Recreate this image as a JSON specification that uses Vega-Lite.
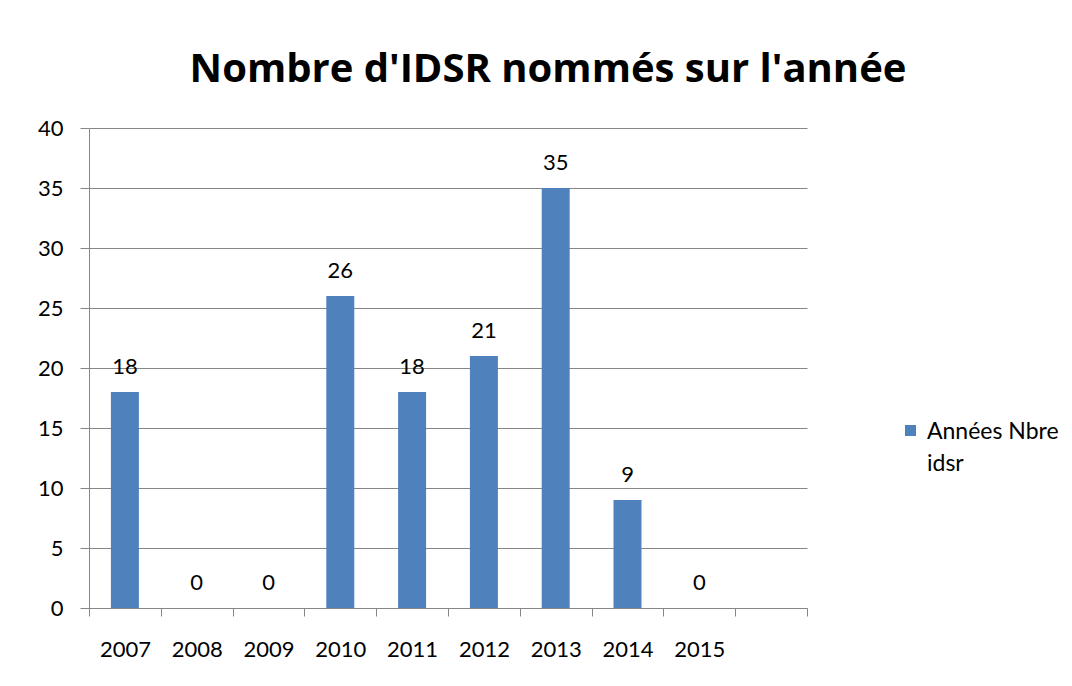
{
  "$schema": "https://vega.github.io/schema/vega-lite/v6.json",
  "autosize": "none",
  "width": 718,
  "height": 480,
  "padding": {"left": 89, "top": 128, "right": 265, "bottom": 78},
  "background": "white",
  "title": {
    "text": "Nombre d'IDSR nommés sur l'année",
    "font": "Open Sans",
    "fontSize": 40,
    "fontWeight": "bold",
    "color": "#000000",
    "anchor": "middle",
    "dx": 100,
    "offset": 27
  },
  "data": {
    "values": [
      {"annee": "2007", "nombre": 18},
      {"annee": "2008", "nombre": 0},
      {"annee": "2009", "nombre": 0},
      {"annee": "2010", "nombre": 26},
      {"annee": "2011", "nombre": 18},
      {"annee": "2012", "nombre": 21},
      {"annee": "2013", "nombre": 35},
      {"annee": "2014", "nombre": 9},
      {"annee": "2015", "nombre": 0}
    ]
  },
  "encoding": {
    "x": {
      "field": "annee",
      "type": "nominal",
      "sort": null,
      "scale": {
        "domain": ["2007", "2008", "2009", "2010", "2011", "2012", "2013", "2014", "2015", ""],
        "paddingInner": 0,
        "paddingOuter": 0
      },
      "axis": {
        "title": null,
        "labelAngle": 0,
        "tickBand": "extent",
        "tickSize": 8,
        "tickColor": "#868686",
        "domainColor": "#868686",
        "labelFont": "Lato",
        "labelFontSize": 22,
        "labelColor": "#000000",
        "labelPadding": 23,
        "grid": false
      }
    },
    "y": {
      "field": "nombre",
      "type": "quantitative",
      "scale": {"domain": [0, 40], "nice": false},
      "axis": {
        "title": null,
        "values": [0, 5, 10, 15, 20, 25, 30, 35, 40],
        "tickSize": 9,
        "tickColor": "#868686",
        "domainColor": "#868686",
        "gridColor": "#868686",
        "grid": true,
        "labelFont": "Lato",
        "labelFontSize": 22,
        "labelColor": "#000000",
        "labelPadding": 17
      }
    }
  },
  "layer": [
    {
      "mark": {"type": "bar", "width": {"band": 0.39}, "color": "#4F81BD"},
      "encoding": {
        "color": {
          "datum": "Années Nbre idsr",
          "scale": {"range": ["#4F81BD"]},
          "legend": {
            "title": null,
            "orient": "none",
            "legendX": 810,
            "legendY": 291,
            "padding": 0,
            "symbolType": "square",
            "symbolSize": 121,
            "symbolStrokeWidth": 0,
            "labelFont": "Lato",
            "labelFontSize": 23,
            "labelColor": "#000000",
            "labelOffset": 5,
            "labelLimit": 300,
            "labelBaseline": "alphabetic",
            "labelExpr": "['Années Nbre', 'idsr']",
            "encode": {
              "labels": {"update": {"lineHeight": {"value": 32}, "dy": {"value": 8}}}
            }
          }
        }
      }
    },
    {
      "mark": {
        "type": "text",
        "font": "Lato",
        "fontSize": 22,
        "color": "#000000",
        "baseline": "middle",
        "dy": -25
      },
      "encoding": {
        "text": {"field": "nombre", "type": "quantitative"}
      }
    }
  ],
  "config": {
    "view": {"stroke": null}
  }
}
